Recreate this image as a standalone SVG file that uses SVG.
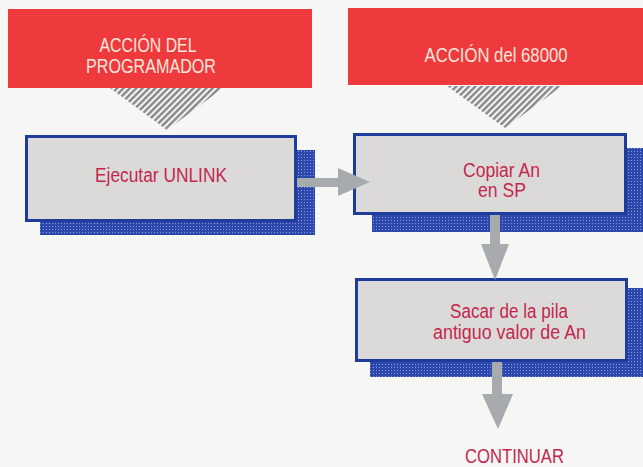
<svg xmlns="http://www.w3.org/2000/svg" width="643" height="467" viewBox="0 0 643 467">
  <defs>
    <pattern id="hatch" width="4.5" height="10" patternUnits="userSpaceOnUse" patternTransform="rotate(45)">
      <rect x="0" y="0" width="2.4" height="10" fill="#85888c"/>
    </pattern>
    <pattern id="dots" width="3" height="3" patternUnits="userSpaceOnUse">
      <rect width="3" height="3" fill="#2c48ac"/>
      <rect x="1" y="1" width="1" height="1" fill="#8a9ad8"/>
    </pattern>
    <style>
      .banner { fill: #ee3a3c; }
      .btxt { font-family: "Liberation Sans", Arial, sans-serif; font-size: 20px; fill: #f6e6dc; text-anchor: middle; }
      .shadow { fill: url(#dots); }
      .box { fill: #dcdad8; stroke: #1e3c9c; stroke-width: 3; }
      .txt { font-family: "Liberation Sans", Arial, sans-serif; font-size: 20px; fill: #c2284e; text-anchor: middle; }
      .arrow { fill: #a8abae; }
      .hatch { fill: url(#hatch); }
    </style>
  </defs>
  <rect width="643" height="467" fill="#f6f6f4"/>

  <g id="banner-programador">
    <rect class="banner" x="8" y="9" width="304" height="79"/>
    <text class="btxt" x="148" y="52" textLength="97" lengthAdjust="spacingAndGlyphs">ACCIÓN DEL</text>
    <text class="btxt" x="151" y="73" textLength="130" lengthAdjust="spacingAndGlyphs">PROGRAMADOR</text>
  </g>

  <g id="banner-68000">
    <rect class="banner" x="348" y="8" width="295" height="77"/>
    <text class="btxt" x="496" y="62" textLength="143" lengthAdjust="spacingAndGlyphs">ACCIÓN del 68000</text>
  </g>

  <g id="node-unlink">
    <rect class="shadow" x="40" y="150" width="275" height="85"/>
    <rect class="box" x="26.5" y="136.5" width="269" height="84"/>
    <text class="txt" x="161" y="182" textLength="132" lengthAdjust="spacingAndGlyphs">Ejecutar UNLINK</text>
  </g>

  <g id="node-copiar">
    <rect class="shadow" x="372" y="148" width="271" height="84"/>
    <rect class="box" x="354.5" y="134.5" width="271" height="79"/>
    <text class="txt" x="501.5" y="177" textLength="77" lengthAdjust="spacingAndGlyphs">Copiar An</text>
    <text class="txt" x="502" y="197" textLength="48" lengthAdjust="spacingAndGlyphs">en SP</text>
  </g>

  <g id="node-sacar">
    <rect class="shadow" x="370" y="288" width="273" height="89"/>
    <rect class="box" x="356.5" y="279.5" width="270" height="81"/>
    <text class="txt" x="509" y="318" textLength="118" lengthAdjust="spacingAndGlyphs">Sacar de la pila</text>
    <text class="txt" x="509.5" y="339" textLength="153" lengthAdjust="spacingAndGlyphs">antiguo valor de An</text>
  </g>

  <g id="node-continuar">
    <text class="txt" x="514.5" y="463" textLength="99" lengthAdjust="spacingAndGlyphs">CONTINUAR</text>
  </g>

  <g id="connectors">
    <polygon class="hatch" points="110,88 223,88 167,130"/>
    <polygon class="hatch" points="447,86 562,86 505,128"/>
    <polygon class="arrow" points="297,178 338,178 338,168 370,182 338,196 338,187 297,187"/>
    <polygon class="arrow" points="490,215 500,215 500,244 509,244 495,280 481,244 490,244"/>
    <polygon class="arrow" points="492,362 502,362 502,394 513,394 498,429 482,394 492,394"/>
  </g>
</svg>
